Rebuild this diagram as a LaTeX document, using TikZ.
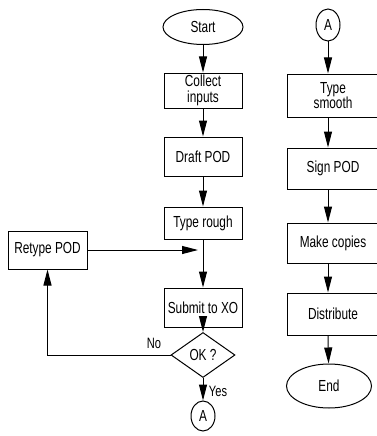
\documentclass[tikz,border=0pt]{standalone}
\usepackage{fontspec}
\setmainfont{Liberation Sans}[FakeStretch=0.74]
\usepackage{tikz}
\usetikzlibrary{shapes.geometric, arrows.meta, positioning, calc}
\tikzset{
    box/.style={rectangle, draw=black, line width=1pt, minimum width=78pt, minimum height=37pt,
                inner sep=1pt, align=center, font=\fontsize{16}{15.5}\selectfont},
    widebox/.style={box, minimum width=92pt, minimum height=42pt},
    terminal/.style={ellipse, draw=black, line width=1pt, minimum width=80pt, minimum height=35pt,
                     inner sep=0pt, font=\fontsize{16}{16}\selectfont},
    connector/.style={ellipse, draw=black, line width=1pt, minimum width=24pt, minimum height=30pt,
                      inner sep=0pt, font=\fontsize{16}{16}\selectfont},
    decision/.style={diamond, draw=black, line width=1pt, minimum width=64pt, minimum height=45pt,
                     inner sep=0pt, aspect=1.4, font=\fontsize{16}{16}\selectfont},
    lbl/.style={inner sep=0pt, font=\fontsize{15}{15}\selectfont},
    arrow/.style={line width=1pt,-{Triangle[length=16pt,width=8pt]}}
}

\begin{document}
\begin{tikzpicture}[x=1pt, y=1pt]
    \clip (0,0) rectangle (377,-436);

    % Left column
    \node[terminal] (start) at (203,-27) {Start};
    \node[box, minimum height=35pt] (collect) at (203,-90.5) {Collect\\inputs};
    \node[box, minimum height=39pt] (draft) at (203,-156.5) {Draft POD};
    \node[box, minimum height=32pt] (rough) at (203,-223) {Type rough};
    \node[box, minimum height=39pt] (submit) at (203,-307.5) {Submit to XO};
    \node[decision] (ok) at (203,-355) {OK ?};
    \node[connector] (abot) at (203,-416) {A};
    \node[box, minimum width=79pt, minimum height=38pt] (retype) at (47.5,-250) {Retype POD};

    % Right column
    \coordinate (rcol) at (328,0);
    \node[connector, minimum height=32pt] (atop) at (328,-25) {A};
    \node[widebox, minimum height=43pt] (smooth) at (333,-95.5) {Type\\smooth};
    \node[widebox, minimum height=41pt] (sign) at (333,-168.5) {Sign POD};
    \node[widebox, minimum height=40pt] (copies) at (333,-243) {Make copies};
    \node[widebox] (distribute) at (333,-314) {Distribute};
    \node[terminal, minimum width=85pt, minimum height=44pt] (end) at (329,-386) {End};

    % Labels
    \node[lbl] (nolbl) at (154,-343) {No};
    \node[lbl] (yeslbl) at (218,-391) {Yes};

    % Arrows
    \draw[arrow] (start) -- (collect);
    \draw[arrow] (collect) -- (draft);
    \draw[arrow] (draft) -- (rough);
    \draw[arrow] (rough) -- (submit);
    \draw[arrow] (submit) -- (ok);
    \draw[arrow] (ok) -- (abot);
    \draw[arrow] (ok.west) -| (retype.south);
    \draw[arrow, shorten >=5pt] (retype.east) -- (retype.east -| rough.south);

    \draw[arrow] (atop) -- (smooth.north -| rcol);
    \draw[arrow] (smooth.south -| rcol) -- (sign.north -| rcol);
    \draw[arrow] (sign.south -| rcol) -- (copies.north -| rcol);
    \draw[arrow] (copies.south -| rcol) -- (distribute.north -| rcol);
    \draw[arrow] (distribute.south -| rcol) -- (end);
\end{tikzpicture}
\end{document}
